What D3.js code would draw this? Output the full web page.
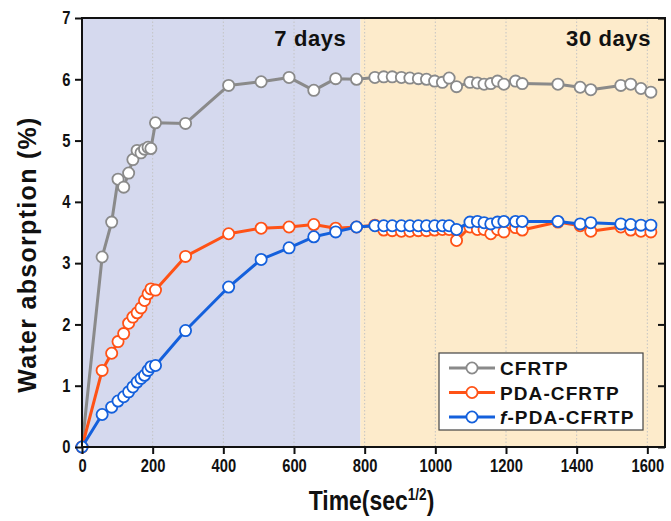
<!DOCTYPE html>
<html>
<head>
<meta charset="utf-8">
<script src="https://cdn.jsdelivr.net/npm/d3@7"></script>
<style>
  body { margin: 0; background: #fff; }
  svg text { font-family: "Liberation Sans", Arial, sans-serif; font-weight: bold; fill: #111; }
</style>
</head>
<body>
<div id="viz"></div>
<script>
const width = 671, height = 521;
const margin = {top: 18, right: 6, bottom: 74, left: 82};

// time (sec^1/2), shared by the three samples
const times = [0, 57, 84, 102, 118, 132, 144, 156, 167, 177, 187, 195, 208, 293, 415, 507, 586, 656, 718, 777,
  829, 854, 878, 904, 928, 952, 975, 998, 1020, 1039, 1060, 1098, 1119, 1138, 1157, 1176, 1194, 1227, 1246,
  1347, 1410, 1440, 1525, 1553, 1582, 1610];

const cfrtp = [0, 3.10, 3.67, 4.37, 4.24, 4.47, 4.69, 4.84, 4.80, 4.86, 4.89, 4.87, 5.29, 5.28, 5.90, 5.96, 6.03, 5.82, 6.01, 6.00,
  6.03, 6.04, 6.04, 6.03, 6.02, 6.01, 6.00, 5.97, 5.95, 6.02, 5.88, 5.95, 5.94, 5.92, 5.93, 5.97, 5.92, 5.97, 5.93,
  5.92, 5.87, 5.83, 5.90, 5.92, 5.85, 5.79];

const pdaCfrtp = [0, 1.25, 1.53, 1.72, 1.85, 2.02, 2.12, 2.19, 2.27, 2.39, 2.50, 2.58, 2.56, 3.11, 3.48, 3.57, 3.59, 3.63, 3.57, 3.59,
  3.62, 3.54, 3.53, 3.52, 3.52, 3.53, 3.53, 3.54, 3.55, 3.55, 3.37, 3.59, 3.55, 3.55, 3.48, 3.55, 3.51, 3.58, 3.54,
  3.67, 3.61, 3.52, 3.59, 3.54, 3.52, 3.51];

const fPdaCfrtp = [0, 0.53, 0.65, 0.75, 0.82, 0.90, 0.98, 1.06, 1.12, 1.17, 1.25, 1.31, 1.33, 1.90, 2.61, 3.06, 3.25, 3.43, 3.51, 3.59,
  3.61, 3.61, 3.61, 3.61, 3.61, 3.61, 3.61, 3.61, 3.61, 3.61, 3.55, 3.67, 3.68, 3.66, 3.64, 3.67, 3.68, 3.68, 3.68,
  3.68, 3.64, 3.66, 3.64, 3.63, 3.62, 3.62];

const seriesNames = ["CFRTP", "PDA-CFRTP", "f-PDA-CFRTP"];
const seriesColors = ["#8a8a8a", "#ff5216", "#1460dc"];

const periodLabels = ["7 days", "30 days"];
const periodEdges = [0, 788, 1650];
const periodColors = ["#d5d9ee", "#fdebcb"];

const xTicks = [0, 200, 400, 600, 800, 1000, 1200, 1400, 1600];
const yTicks = [0, 1, 2, 3, 4, 5, 6, 7];

const svg = d3.select("#viz").append("svg").attr("width", width).attr("height", height);

const x = d3.scaleLinear().domain([0, 1650]).range([margin.left, width - margin.right]);
const y = d3.scaleLinear().domain([0, 7]).range([height - margin.bottom, margin.top]);

// period bands
svg.selectAll("rect.band").data(periodLabels).enter().append("rect")
  .attr("class", "band")
  .attr("x", (d, i) => x(periodEdges[i]))
  .attr("y", y(7))
  .attr("width", (d, i) => x(periodEdges[i + 1]) - x(periodEdges[i]))
  .attr("height", y(0) - y(7))
  .attr("fill", (d, i) => periodColors[i]);

// dotted vertical grid
svg.selectAll("line.grid").data(xTicks.slice(1)).enter().append("line")
  .attr("x1", d => x(d)).attr("x2", d => x(d))
  .attr("y1", y(7)).attr("y2", y(0))
  .attr("stroke", "#c4c4c4").attr("stroke-width", 1)
  .attr("stroke-dasharray", "1.5,2");

svg.selectAll("text.period").data(periodLabels).enter().append("text")
  .attr("x", (d, i) => x(periodEdges[i + 1]) - 14)
  .attr("y", 46)
  .attr("text-anchor", "end")
  .style("font-size", "22px")
  .style("letter-spacing", "0.6px")
  .text(d => d);

// series
const allSeries = [cfrtp, pdaCfrtp, fPdaCfrtp];
const line = d3.line().x(d => x(d[0])).y(d => y(d[1]));

allSeries.forEach((vals, k) => {
  const pts = times.map((t, i) => [t, vals[i]]);
  const g = svg.append("g");
  g.append("path").datum(pts)
    .attr("d", line)
    .attr("fill", "none")
    .attr("stroke", seriesColors[k])
    .attr("stroke-width", 3)
    .attr("stroke-linejoin", "round");
  g.selectAll("circle").data(pts).enter().append("circle")
    .attr("cx", d => x(d[0]))
    .attr("cy", d => y(d[1]))
    .attr("r", 5.6)
    .attr("fill", "#fff")
    .attr("stroke", seriesColors[k])
    .attr("stroke-width", 1.8);
});

// axes
const xAxis = g => g
  .attr("transform", `translate(0,${y(0)})`)
  .call(d3.axisBottom(x).tickValues(xTicks).tickFormat(d3.format("d")).tickSize(7).tickPadding(5))
  .call(g => g.select(".domain").remove());

const yAxis = g => g
  .attr("transform", `translate(${x(0)},0)`)
  .call(d3.axisLeft(y).tickValues(yTicks).tickFormat(d3.format("d")).tickSize(7).tickPadding(5))
  .call(g => g.select(".domain").remove());

const yRight = g => g
  .attr("transform", `translate(${x(1650)},0)`)
  .call(d3.axisLeft(y).tickValues(yTicks).tickSize(7).tickFormat(""))
  .call(g => g.select(".domain").remove());

const gx = svg.append("g").call(xAxis);
const gy = svg.append("g").call(yAxis);
svg.append("g").call(yRight);

svg.selectAll(".tick line").attr("stroke", "#111").attr("stroke-width", 2);
// condensed look for tick labels
gx.selectAll(".tick text").style("font-size", "18px").attr("fill", "#111")
  .attr("transform", "scale(0.82,1)");
gy.selectAll(".tick text").style("font-size", "18px").attr("fill", "#111")
  .attr("x", -14).attr("transform", "scale(0.82,1)");

// frame
svg.append("rect")
  .attr("x", x(0)).attr("y", y(7))
  .attr("width", x(1650) - x(0)).attr("height", y(0) - y(7))
  .attr("fill", "none").attr("stroke", "#111").attr("stroke-width", 2);

// axis titles
svg.append("text")
  .attr("transform", `translate(36,${(y(0) + y(7)) / 2 + 22}) rotate(-90)`)
  .attr("text-anchor", "middle")
  .style("font-size", "25px")
  .style("letter-spacing", "1.3px")
  .text("Water absorption (%)");

const xt = svg.append("text")
  .attr("transform", `translate(${(x(0) + x(1650)) / 2 - 2},510) scale(0.85,1)`)
  .attr("text-anchor", "middle")
  .style("font-size", "27px");
xt.append("tspan").text("Time(sec");
xt.append("tspan").attr("dy", -10).style("font-size", "16px").text("1/2");
xt.append("tspan").attr("dy", 10).text(")");

// legend
const legend = svg.append("g").attr("transform", "translate(439,353)");
legend.append("rect")
  .attr("width", 204).attr("height", 77)
  .attr("fill", "#fff").attr("stroke", "#444").attr("stroke-width", 1.2);

const rows = legend.selectAll("g.row").data(seriesNames).enter().append("g")
  .attr("transform", (d, i) => `translate(0,${15 + i * 24.5})`);
rows.append("line")
  .attr("x1", 10).attr("x2", 56).attr("y1", 0).attr("y2", 0)
  .attr("stroke", (d, i) => seriesColors[i]).attr("stroke-width", 3);
rows.append("circle")
  .attr("cx", 33).attr("cy", 0).attr("r", 5.6)
  .attr("fill", "#fff")
  .attr("stroke", (d, i) => seriesColors[i]).attr("stroke-width", 1.8);
const lt = rows.append("text")
  .attr("x", 61).attr("y", 7)
  .style("font-size", "19px")
  .style("letter-spacing", "1.1px");
lt.each(function(d) {
  const t = d3.select(this);
  if (d.startsWith("f-")) {
    t.append("tspan").style("font-style", "italic").text("f");
    t.append("tspan").text(d.slice(1));
  } else {
    t.text(d);
  }
});
</script>
</body>
</html>
